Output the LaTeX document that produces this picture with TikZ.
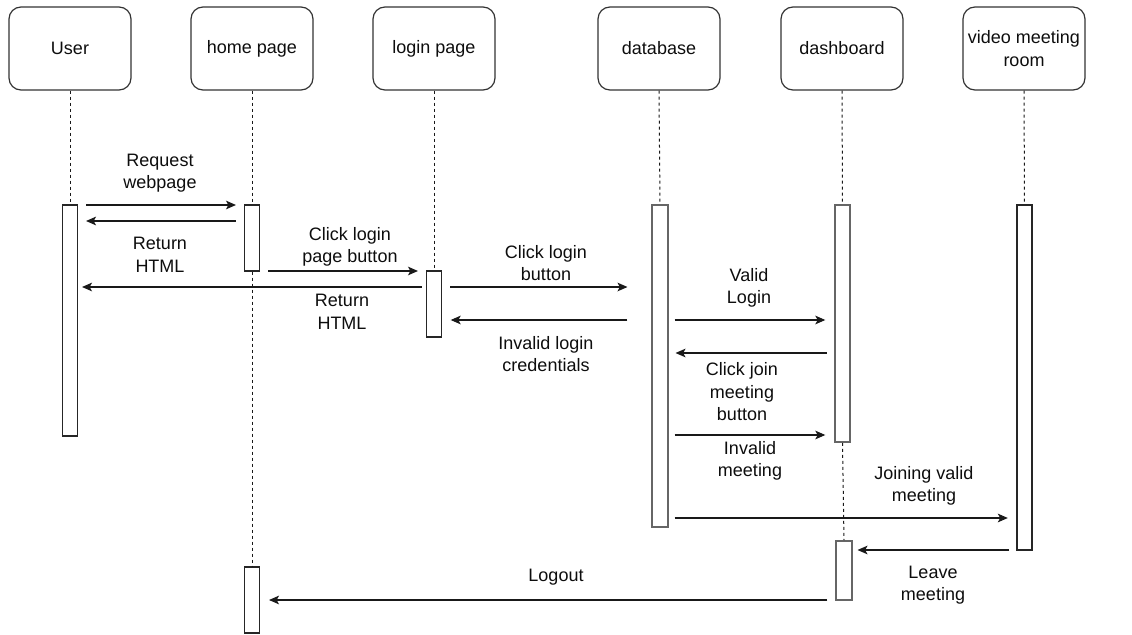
\documentclass[tikz,border=0pt]{standalone}
\usepackage{fontspec}
\setmainfont{Liberation Sans}
\usetikzlibrary{arrows.meta}

\begin{document}
\begin{tikzpicture}[x=0.75pt,y=0.75pt,yscale=-1,xscale=1,
  every node/.style={font=\fontsize{13.5}{16.9}\selectfont,text=black!95},
  actor/.style={draw=black!80,line width=0.9pt,rounded corners=9pt,minimum width=91.5pt,minimum height=62.25pt,align=center,inner sep=0pt},
  act/.style={draw=black!85,line width=0.8pt,fill=white,minimum width=11.25pt,inner sep=0pt},
  actg/.style={act,draw=black!60,line width=1.3pt},
  life/.style={draw=black!90,line width=0.75pt,dash pattern=on 2.25pt off 2.25pt},
  msg/.style={draw=black!90,line width=0.8pt,-{Stealth[length=7.5pt,width=6.5pt,inset=1.8pt]},shorten <=6pt,shorten >=6pt},
  lbl/.style={align=center,inner sep=0pt}
]
\useasboundingbox (0,0) rectangle (1132,635);

%Actors
\node[actor] (user) at (70,48.5) {User};
\node[actor] (home) at (252,48.5) {home page};
\node[actor] (login) at (434,48.5) {login page};
\node[actor] (db) at (659,48.5) {database};
\node[actor] (dash) at (842,48.5) {dashboard};
\node[actor] (room) at (1024,48.5) {video meeting\\room};

%Activations
\node[act,minimum height=173.25pt] (uact) at (70,320.5) {};
\node[act,minimum height=49.5pt] (hact1) at (252,238) {};
\node[act,minimum height=49.5pt] (lact) at (434,304) {};
\node[actg,minimum width=11.5pt,minimum height=241.5pt] (dbact) at (660,366) {};
\node[actg,minimum width=11.5pt,minimum height=177.75pt] (dact) at (842.5,323.5) {};
\node[act,minimum height=258.75pt] (vact) at (1024.5,377.5) {};
\node[actg,minimum width=11.5pt,minimum height=44.25pt] (dact2) at (844,570.5) {};
\node[act,minimum height=49.5pt] (hact2) at (252,600) {};

%Lifelines
\draw[life] (user.south) -- (uact.north);
\draw[life] (home.south) -- (hact1.north);
\draw[life] (hact1.south) -- (hact2.north);
\draw[life] (login.south) -- (lact.north);
\draw[life] (db.south) -- (dbact.north);
\draw[life] (dash.south) -- (dact.north);
\draw[life] (dact.south) -- (dact2.north);
\draw[life] (room.south) -- (vact.north);

%Messages
\draw[msg] (uact.east |- 0,205) -- (hact1.west |- 0,205);
\draw[msg] (hact1.west |- 0,221) -- (uact.east |- 0,221);
\draw[msg] (hact1.east |- 0,271) -- (lact.west |- 0,271);
\draw[msg,shorten <=3pt,shorten >=3pt] (lact.west |- 0,287) -- (uact.east |- 0,287);
\draw[msg,shorten >=18pt] (lact.east |- 0,287) -- (dbact.west |- 0,287);
\draw[msg,shorten <=18pt,shorten >=6.5pt] (dbact.west |- 0,320) -- (lact.east |- 0,320);
\draw[msg,shorten <=4.5pt,shorten >=6.5pt] (dbact.east |- 0,320) -- (dact.west |- 0,320);
\draw[msg,shorten <=5.25pt,shorten >=5.25pt] (dact.west |- 0,353) -- (dbact.east |- 0,353);
\draw[msg,shorten <=4.5pt,shorten >=6.5pt] (dbact.east |- 0,435) -- (dact.west |- 0,435);
\draw[msg,shorten <=4.5pt,shorten >=6.5pt] (dbact.east |- 0,518) -- (vact.west |- 0,518);
\draw[msg,shorten <=5.25pt,shorten >=3.75pt] (vact.west |- 0,550) -- (dact2.east |- 0,550);
\draw[msg,shorten >=6.75pt] (dact2.west |- 0,600) -- (hact2.east |- 0,600);

%Labels
\node[lbl] (l1) at (160,173) {Request\\webpage};
\node[lbl] (l2) at (160,255) {Return\\HTML};
\node[lbl] (l3) at (350,247) {Click login\\page button};
\node[lbl] (l4) at (342,312) {Return\\HTML};
\node[lbl] (l5) at (546,263) {Click login\\button};
\node[lbl] (l6) at (546,354) {Invalid login\\credentials};
\node[lbl] (l7) at (749,288) {Valid\\Login};
\node[lbl] (l8) at (742,392) {Click join\\meeting\\button};
\node[lbl] (l9) at (750,461) {Invalid\\meeting};
\node[lbl] (l10) at (924,486) {Joining valid\\meeting};
\node[lbl] (l11) at (933,585) {Leave\\meeting};
\node[lbl] (l12) at (556,577) {Logout};

\end{tikzpicture}
\end{document}
